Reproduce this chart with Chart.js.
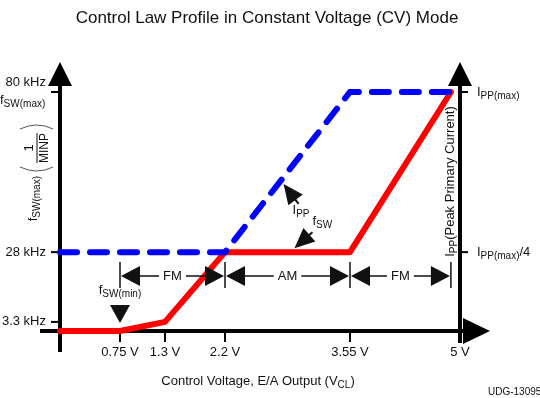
<!DOCTYPE html>
<html lang="en">
<head>
<meta charset="UTF-8">
<title>Control Law Profile in Constant Voltage (CV) Mode</title>
<script src="https://cdn.jsdelivr.net/npm/chart.js"></script>
<style>
    body { margin: 0; background: #fff; }
    #wrap { width: 540px; height: 398px; }
</style>
</head>
<body>
<div id="wrap"><canvas id="chart" width="540" height="398"></canvas></div>
<script>
// tick values on each axis
const voltTicks = [0.75, 1.3, 2.2, 3.55, 5];          // V
const freqTicks = [3.3, 28, 80];                      // kHz, left axis
const ippTicks = [0.25, 1];                           // x IPP(max), right axis
const ippTickLabels = ['I_{PP(max)}/4', 'I_{PP(max)}'];

// switching frequency (red)
const fswVolts = [0, 0.75, 1.3, 2.2, 3.55, 4.88];
const fswKHz = [0, 0, 3.3, 28, 28, 80];

// peak primary current (blue dashed)
const ippVolts = [0, 2.2, 3.55, 5];
const ippRel = [0.25, 0.25, 1, 1];

// modulation regions
const modeStops = [0.75, 2.2, 3.55, 4.88];
const modeNames = ['FM', 'AM', 'FM'];

const FONT = '"Liberation Sans", Arial, sans-serif';
const INK = '#111';

// the drawing is not to scale: each axis stretches between its marked values
const axisLayout = {
    x:  { at: [0, 0.75, 1.3, 2.2, 3.55, 5], pos: [0, 0.15, 0.2625, 0.4125, 0.725, 1] },
    yF: { at: [0, 3.3, 28, 80], pos: [0, 0.038, 0.33, 1] },
    yI: { at: [0, 0.25, 1], pos: [0, 0.33, 1] }
};

class SchematicScale extends Chart.LinearScale {
    getPixelForValue(v) {
        const m = axisLayout[this.id];
        let i = 1;
        while (i < m.at.length - 1 && v > m.at[i]) i++;
        const t = (v - m.at[i - 1]) / (m.at[i] - m.at[i - 1]);
        return this.getPixelForDecimal(m.pos[i - 1] + t * (m.pos[i] - m.pos[i - 1]));
    }
}
SchematicScale.id = 'schematic';
SchematicScale.defaults = Chart.LinearScale.defaults;
Chart.register(SchematicScale);

function parseRich(s) {
    const parts = [];
    const re = /_\{([^}]*)\}/g;
    let last = 0, m;
    while ((m = re.exec(s))) {
        if (m.index > last) parts.push([s.slice(last, m.index), false]);
        parts.push([m[1], true]);
        last = re.lastIndex;
    }
    if (last < s.length) parts.push([s.slice(last), false]);
    return parts;
}

// text with _{subscript} parts
function richText(ctx, s, x, y, align, size) {
    size = size || 13;
    const sub = Math.round(size * 0.78);
    const parts = parseRich(s);
    let w = 0;
    parts.forEach(p => { ctx.font = (p[1] ? sub : size) + 'px ' + FONT; w += ctx.measureText(p[0]).width; });
    let cx = align === 'right' ? x - w : align === 'center' ? x - w / 2 : x;
    ctx.textAlign = 'left';
    ctx.textBaseline = 'middle';
    parts.forEach(p => {
        ctx.font = (p[1] ? sub : size) + 'px ' + FONT;
        ctx.fillText(p[0], cx, y + (p[1] ? size * 0.33 : 0));
        cx += ctx.measureText(p[0]).width;
    });
}

function head(ctx, tx, ty, ang, len, half) {
    ctx.save();
    ctx.translate(tx, ty);
    ctx.rotate(ang);
    ctx.beginPath();
    ctx.moveTo(0, 0);
    ctx.lineTo(-len, -half);
    ctx.lineTo(-len, half);
    ctx.closePath();
    ctx.fill();
    ctx.restore();
}

function line(ctx, x1, y1, x2, y2) {
    ctx.beginPath();
    ctx.moveTo(x1, y1);
    ctx.lineTo(x2, y2);
    ctx.stroke();
}

function pointer(ctx, tailX, tailY, tipX, tipY) {
    const ang = Math.atan2(tipY - tailY, tipX - tailX);
    ctx.lineWidth = 2;
    line(ctx, tailX, tailY, tipX - 10 * Math.cos(ang), tipY - 10 * Math.sin(ang));
    head(ctx, tipX, tipY, ang, 20, 9);
}

const axesPlugin = {
    id: 'axes',
    beforeDatasetsDraw(chart) {
        const ctx = chart.ctx, s = chart.scales;
        const L = s.x.getPixelForValue(0), R = s.x.getPixelForValue(5);
        const B = s.yF.getPixelForValue(0), T = s.yF.getPixelForValue(80);
        ctx.save();
        ctx.strokeStyle = '#000';
        ctx.fillStyle = '#000';
        ctx.lineWidth = 4;
        line(ctx, L, B + 21, L, T - 8);
        head(ctx, L, T - 30, -Math.PI / 2, 24, 12);
        line(ctx, R, B + 12, R, T - 8);
        head(ctx, R, T - 30, -Math.PI / 2, 24, 12);
        line(ctx, L - 20, B, R + 6, B);
        head(ctx, R + 30, B, 0, 27, 13);

        ctx.lineWidth = 2;
        freqTicks.forEach(v => { const y = s.yF.getPixelForValue(v); line(ctx, L - 9, y, L, y); });
        ippTicks.forEach(v => { const y = s.yI.getPixelForValue(v); line(ctx, R, y, R + 8, y); });
        voltTicks.forEach(v => { const x = s.x.getPixelForValue(v); line(ctx, x, B, x, B + 11); });
        ctx.restore();
    },
    afterDatasetsDraw(chart) {
        const ctx = chart.ctx, s = chart.scales;
        const L = s.x.getPixelForValue(0), R = s.x.getPixelForValue(5);
        const B = s.yF.getPixelForValue(0), T = s.yF.getPixelForValue(80);
        ctx.save();
        ctx.fillStyle = INK;
        ctx.strokeStyle = INK;

        // title
        ctx.font = '17px ' + FONT;
        ctx.textAlign = 'center';
        ctx.textBaseline = 'middle';
        ctx.fillText('Control Law Profile in Constant Voltage (CV) Mode', 267, 18);

        // left axis labels
        freqTicks.forEach(v => {
            const y = s.yF.getPixelForValue(v) - (v === 80 ? 10 : 0);
            richText(ctx, v + ' kHz', L - 14, y, 'right');
        });
        richText(ctx, 'f_{SW(max)}', 0, T + 8, 'left');

        // right axis labels
        ippTicks.forEach((v, i) => richText(ctx, ippTickLabels[i], R + 17, s.yI.getPixelForValue(v), 'left'));

        // x axis labels and title
        voltTicks.forEach(v => {
            ctx.font = '13px ' + FONT;
            ctx.textAlign = 'center';
            ctx.fillText(v + ' V', s.x.getPixelForValue(v), B + 21);
        });
        richText(ctx, 'Control Voltage, E/A Output (V_{CL})', 258, B + 50, 'center');
        richText(ctx, 'UDG-13095', 488, 392, 'left', 10);

        // rotated right axis title
        ctx.save();
        ctx.translate(R - 10, (T + B) / 2 - 30);
        ctx.rotate(-Math.PI / 2);
        richText(ctx, 'I_{PP}(Peak Primary Current)', 0, 0, 'center');
        ctx.restore();

        // rotated left axis title: fSW(max) (1 / MINP)
        ctx.save();
        ctx.translate(36, 173);
        ctx.rotate(-Math.PI / 2);
        richText(ctx, 'f_{SW(max)}', -3, -3, 'right');
        ctx.font = '13px ' + FONT;
        ctx.textAlign = 'center';
        ctx.fillText('1', 25, -7);
        ctx.font = '12px ' + FONT;
        ctx.fillText('MINP', 25, 9);
        ctx.lineWidth = 1;
        line(ctx, 10, 1, 40, 1);
        ctx.strokeStyle = '#555';
        ctx.beginPath();
        ctx.moveTo(6, -16); ctx.quadraticCurveTo(-2, 1, 6, 17);
        ctx.moveTo(44, -16); ctx.quadraticCurveTo(52, 1, 44, 17);
        ctx.stroke();
        ctx.restore();

        // modulation region brackets
        const yb = B - 55;
        ctx.lineWidth = 1.5;
        modeStops.forEach(v => { const x = s.x.getPixelForValue(v); line(ctx, x, yb - 14, x, yb + 12); });
        modeNames.forEach((name, i) => {
            const a = s.x.getPixelForValue(modeStops[i]), b = s.x.getPixelForValue(modeStops[i + 1]);
            const mid = (a + b) / 2;
            ctx.font = '13px ' + FONT;
            const tw = ctx.measureText(name).width;
            ctx.textAlign = 'center';
            ctx.fillText(name, mid, yb);
            ctx.lineWidth = 1.5;
            line(ctx, a + 18, yb, mid - tw / 2 - 4, yb);
            line(ctx, mid + tw / 2 + 4, yb, b - 18, yb);
            head(ctx, a + 1, yb, Math.PI, 19, 10);
            head(ctx, b - 1, yb, 0, 19, 10);
        });

        // fSW(min) marker
        const xm = s.x.getPixelForValue(0.75);
        head(ctx, xm, B - 8, Math.PI / 2, 18, 10);
        richText(ctx, 'f_{SW(min)}', xm, B - 41, 'center');

        // curve call-outs
        const ix = s.x.getPixelForValue(2.8) + 3, iy = s.yI.getPixelForValue(0.25 + 0.75 * 0.6 / 1.35) + 3;
        pointer(ctx, ix + 15, iy + 20, ix, iy);
        richText(ctx, 'I_{PP}', ix + 9, iy + 26, 'left');
        const fx = s.x.getPixelForValue(2.95), fy = s.yF.getPixelForValue(28) - 4;
        pointer(ctx, fx + 18, fy - 16, fx, fy);
        richText(ctx, 'f_{SW}', fx + 18, fy - 27, 'left');
        ctx.restore();
    }
};

new Chart(document.getElementById('chart'), {
    type: 'line',
    data: {
        datasets: [
            {
                label: 'IPP',
                data: ippVolts.map((v, i) => ({ x: v, y: ippRel[i] })),
                yAxisID: 'yI',
                borderColor: '#0000ff',
                borderWidth: 6,
                borderDash: [17, 13],
                borderCapStyle: 'round',
                pointRadius: 0,
                fill: false,
                clip: false
            },
            {
                label: 'fSW',
                data: fswVolts.map((v, i) => ({ x: v, y: fswKHz[i] })),
                yAxisID: 'yF',
                borderColor: '#ff0000',
                borderWidth: 6,
                borderCapStyle: 'round',
                borderJoinStyle: 'round',
                pointRadius: 0,
                fill: false,
                clip: false
            }
        ]
    },
    options: {
        responsive: false,
        animation: false,
        devicePixelRatio: 1,
        events: [],
        layout: { padding: { left: 60, right: 80, top: 92, bottom: 67 } },
        scales: {
            x: { type: 'schematic', position: 'bottom', min: 0, max: 5, display: false },
            yF: { type: 'schematic', position: 'left', min: 0, max: 80, display: false },
            yI: { type: 'schematic', position: 'right', min: 0, max: 1, display: false }
        },
        plugins: { legend: { display: false }, tooltip: { enabled: false } }
    },
    plugins: [axesPlugin]
});
</script>
</body>
</html>
